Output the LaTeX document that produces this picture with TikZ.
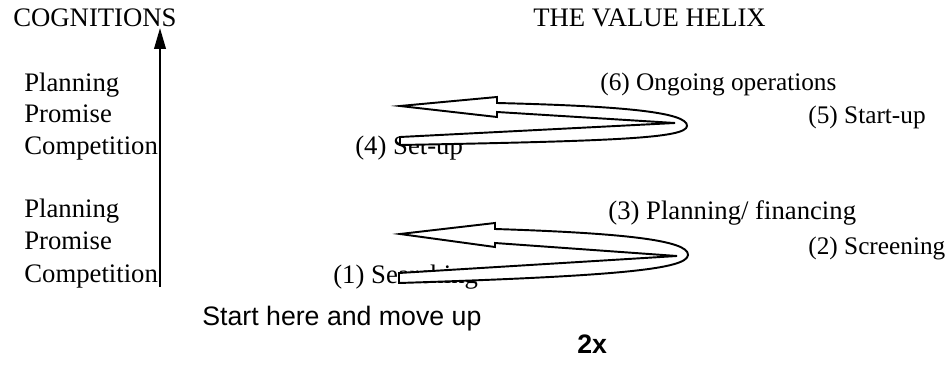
\documentclass[tikz,border=0pt]{standalone}
\usepackage{fontspec}
\setmainfont{Liberation Serif}
\newfontfamily\notefont{Liberation Sans}
\usetikzlibrary{arrows.meta}
\tikzset{
	lbl/.style      ={anchor=base west, inner sep=0pt, font=\fontsize{15.2}{18}\selectfont},
	lblsmall/.style ={anchor=base west, inner sep=0pt, font=\fontsize{14.4}{17}\selectfont},
	note/.style     ={anchor=base west, inner sep=0pt, font=\notefont\fontsize{15.2}{18}\selectfont},
	helix/.style    ={draw=black, fill=white, line width=1.1pt, line join=miter},
	axisarrow/.style={-{Triangle[length=0.42cm, width=0.23cm]}, line width=1.3pt},
}

\begin{document}
\begin{tikzpicture}[x=0.02cm, y=-0.02cm]
	\useasboundingbox (0,0) rectangle (950,371);
	% headings
	\node[lbl] (cogn)  at (13,27)  {COGNITIONS};
	\node[lbl] (helix) at (533,27) {THE VALUE HELIX};
	% cognitions, upper turn
	\node[lbl] (plan2) at (24,92)  {Planning};
	\node[lbl] (prom2) at (24,123) {Promise};
	\node[lbl] (comp2) at (24,155) {Competition};
	% cognitions, lower turn
	\node[lbl] (plan1) at (24,218) {Planning};
	\node[lbl] (prom1) at (24,250) {Promise};
	\node[lbl] (comp1) at (24,282) {Competition};
	% stages
	\node[lblsmall] (st6) at (600,91)  {(6) Ongoing operations};
	\node[lblsmall] (st5) at (808,124) {(5) Start-up};
	\node[lbl]      (st4) at (355,155) {(4) Set-up};
	\node[lbl]      (st3) at (608,220) {(3) Planning/ financing};
	\node[lblsmall] (st2) at (808,255) {(2) Screening};
	\node[lbl]      (st1) at (333,283) {(1) Searching};
	% notes
	\node[note] (start) at (202,325) {Start here and move up};
	\node[note] (twice) at (577,353) {\bfseries 2x};
	% axis
	\coordinate (axisfoot) at (160,287);
	\coordinate (axistop)  at (160,28);
	\draw[axisarrow] (axisfoot) -- (axistop);
	% upper turn of the helix
	\draw[helix] (400,106) -- (497,97) -- (497,103)
		.. controls (620,106) and (688,112) .. (687,126)
		.. controls (686,138) and (620,141) .. (400,145)
		-- (400,137) -- (675,123) -- (497,112) -- (497,117) -- cycle;
	% lower turn of the helix
	\draw[helix] (400,234) -- (495,223) -- (495,229)
		.. controls (620,233) and (689,240) .. (688,255)
		.. controls (687,269) and (620,276) .. (399,283)
		-- (399,273) -- (677,256) -- (495,243) -- (495,247) -- cycle;
\end{tikzpicture}
\end{document}
